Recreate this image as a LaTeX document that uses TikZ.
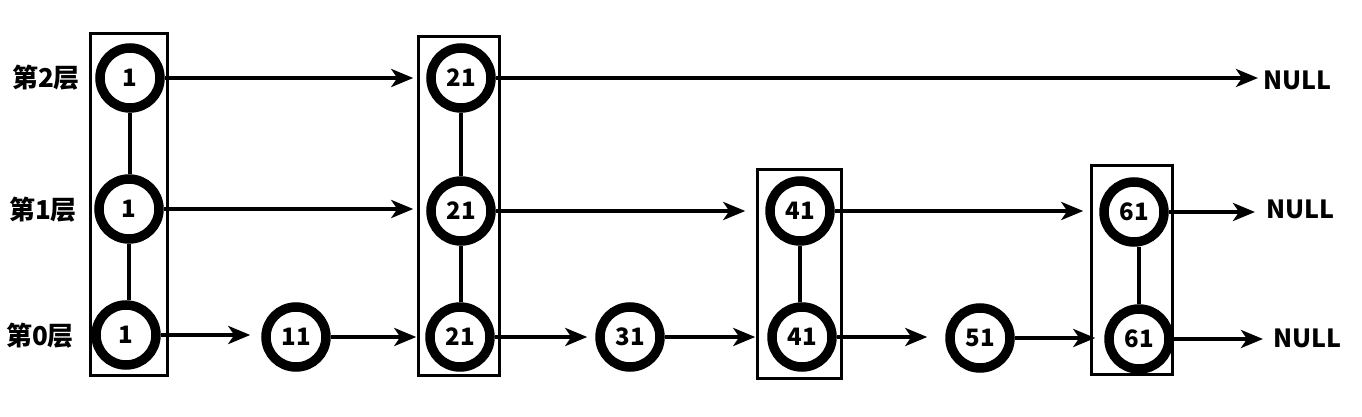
\documentclass[tikz,border=0pt]{standalone}
\usepackage{fontspec}
\setmainfont{Noto Sans CJK SC}
\usetikzlibrary{arrows.meta}
\begin{document}
\begin{tikzpicture}[x=1pt,y=-1pt,
  nd/.style={circle, draw, fill=white, line width=9.5pt, minimum size=60pt, inner sep=0pt, font=\bfseries\fontsize{24}{24}\selectfont},
  grp/.style={draw, line width=3pt},
  arr/.style={line width=3.8pt, -{Stealth[length=22pt,width=18pt,inset=6pt]}},
  lnk/.style={line width=3.5pt},
  lab/.style={font=\bfseries\fontsize{26}{26}\selectfont, inner sep=0pt},
  nul/.style={font=\bfseries\fontsize{25}{25}\selectfont, inner sep=0pt, anchor=west}]
\fill[white] (0,0) rectangle (1362,417);
\useasboundingbox (0,0) rectangle (1362,417);
% group boxes
\draw[grp] (90,34) rectangle (167,375);
\draw[grp] (418,37) rectangle (499,375);
\draw[grp] (757,169) rectangle (841,378);
\draw[grp] (1091,165) rectangle (1172,374);
% level labels
\node[lab] (l2) at (46,78) {第2层};
\node[lab] (l1) at (43,210) {第1层};
\node[lab] (l0) at (40,336) {第0层};
% nodes
\node[nd] (a2) at (130,78) {1};
\node[nd] (a1) at (129,209) {1};
\node[nd] (a0) at (126,335) {1};
\node[nd] (n11) at (296,337) {11};
\node[nd] (b2) at (461,78) {21};
\node[nd] (b1) at (461,211) {21};
\node[nd] (b0) at (460,337) {21};
\node[nd] (n31) at (630,337) {31};
\node[nd] (c1) at (800,211) {41};
\node[nd] (c0) at (802,337) {41};
\node[nd] (n51) at (980,338) {51};
\node[nd] (d1) at (1134,212) {61};
\node[nd] (d0) at (1139,339) {61};
\node[nul] (null2) at (1263,80) {NULL};
\node[nul] (null1) at (1266,209) {NULL};
\node[nul] (null0) at (1273,338) {NULL};
% vertical links
\draw[lnk] (a2.south) -- (a2.south |- a1.north);
\draw[lnk] (a1.south) -- (a1.south |- a0.north);
\draw[lnk] (b2.south) -- (b2.south |- b1.north);
\draw[lnk] (b1.south) -- (b1.south |- b0.north);
\draw[lnk] (c1.south) -- (c1.south |- c0.north);
\draw[lnk] (d0.north) -- (d0.north |- d1.south);
% level 2
\draw[arr, shorten >=13pt] (a2.east) -- (a2.east -| b2.west);
\draw[arr, shorten >=5pt] (b2.east) -- (b2.east -| null2.west);
% level 1
\draw[arr, shorten >=13pt] (a1.east) -- (a1.east -| b1.west);
\draw[arr, shorten >=20pt] (b1.east) -- (b1.east -| c1.west);
\draw[arr, shorten >=16pt] (c1.east) -- (c1.east -| d1.west);
\draw[arr, shorten >=11pt] (d1.east) -- (d1.east -| null1.west);
% level 0
\draw[arr, shorten >=11pt] (a0.east) -- (a0.east -| n11.west);
\draw[arr, shorten >=9pt] (n11.east) -- (n11.east -| b0.west);
\draw[arr, shorten >=8pt] (b0.east) -- (b0.east -| n31.west);
\draw[arr, shorten >=12pt] (n31.east) -- (n31.east -| c0.west);
\draw[arr, shorten >=18pt] (c0.east) -- (c0.east -| n51.west);
\draw[arr, shorten >=9pt] (n51.east) -- (n51.east -| d0.west);
\draw[arr, shorten >=10pt] (d0.east) -- (d0.east -| null0.west);
\end{tikzpicture}
\end{document}
